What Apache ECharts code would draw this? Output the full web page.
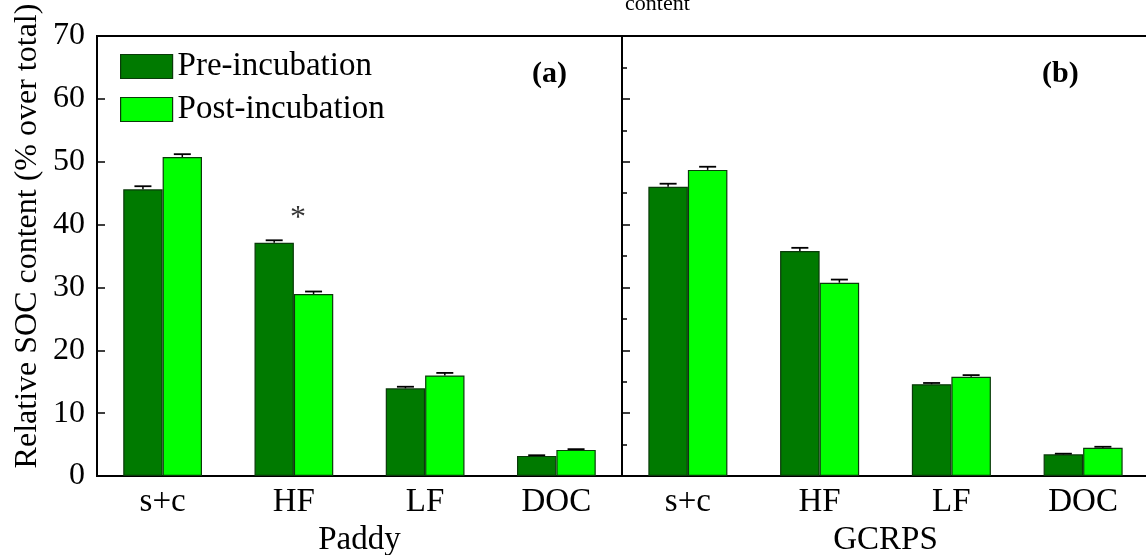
<!DOCTYPE html>
<html>
<head>
<meta charset="utf-8">
<script src="https://cdn.jsdelivr.net/npm/echarts@6/dist/echarts.min.js"></script>
<style>html,body{margin:0;padding:0;background:#fff;}#c{width:1146px;height:555px;}</style>
</head>
<body>
<div id="c"></div>
<script>
const categories = ['s+c', 'HF', 'LF', 'DOC'];
const yTicks = [0, 10, 20, 30, 40, 50, 60, 70];
const paddyPre = [45.6, 37.1, 13.95, 3.2];
const paddyPost = [50.75, 28.95, 16.0, 4.15];
const paddyPreErr = [0.5, 0.4, 0.25, 0.1];
const paddyPostErr = [0.45, 0.4, 0.4, 0.12];
const gcrpsPre = [46.0, 35.8, 14.6, 3.45];
const gcrpsPost = [48.7, 30.75, 15.8, 4.5];
const gcrpsPreErr = [0.5, 0.5, 0.2, 0.1];
const gcrpsPostErr = [0.5, 0.5, 0.25, 0.15];
const panelNames = ['Paddy', 'GCRPS'];
const panelTags = ['(a)', '(b)'];
const seriesNames = ['Pre-incubation', 'Post-incubation'];
const sigMark = { category: 'HF', value: 41.0, text: '*' };

const FONT = 'Liberation Serif';
const PRE = '#007a00', POST = '#00ff00', EDGE = '#0a3a0a';
const BARFRAC = 0.3;

const chart = echarts.init(document.getElementById('c'), null, { renderer: 'canvas' });

function errRender(sign) {
  return function (params, api) {
    const i = api.value(0), v = api.value(1), e = api.value(2);
    const base = api.coord([i, v]);
    const top = api.coord([i, v + e]);
    const bw = api.size([1, 0])[0] * BARFRAC;
    const x = base[0] + sign * bw / 2;
    const hw = 8.5;
    return {
      type: 'group',
      children: [
        { type: 'line', shape: { x1: x, y1: base[1], x2: x, y2: top[1] }, style: { stroke: '#000', lineWidth: 1.5 } },
        { type: 'line', shape: { x1: x - hw, y1: top[1], x2: x + hw, y2: top[1] }, style: { stroke: '#000', lineWidth: 1.8 } }
      ]
    };
  };
}
function errData(vals, errs) { return vals.map((v, i) => [i, v, errs[i]]); }

function barSeries(name, data, color, idx) {
  return {
    name: name, type: 'bar', xAxisIndex: idx, yAxisIndex: idx, data: data,
    barWidth: (BARFRAC * 100) + '%', barGap: '0%',
    itemStyle: { color: color, borderColor: EDGE, borderWidth: 1.2 },
    z: 2
  };
}
function errSeries(vals, errs, sign, idx) {
  return {
    type: 'custom', xAxisIndex: idx, yAxisIndex: idx, renderItem: errRender(sign),
    data: errData(vals, errs), z: 3, silent: true
  };
}

function xAxis(idx) {
  return {
    type: 'category', gridIndex: idx, data: categories,
    axisLine: { lineStyle: { color: '#000', width: 2 } },
    axisTick: { show: false },
    axisLabel: { fontFamily: FONT, fontSize: 33, color: '#000', margin: 10 },
    name: panelNames[idx], nameLocation: 'middle', nameGap: 35,
    nameTextStyle: { fontFamily: FONT, fontSize: 33, color: '#000' }
  };
}
function yAxis(idx) {
  const a = {
    type: 'value', gridIndex: idx, min: yTicks[0], max: yTicks[yTicks.length - 1], interval: 10,
    axisLine: { show: true, lineStyle: { color: '#000', width: 2 } },
    axisTick: { show: true, inside: true, length: 8, lineStyle: { color: '#000', width: 1.5 } },
    splitLine: { show: false },
    axisLabel: { show: idx === 0, fontFamily: FONT, fontSize: 32, color: '#000', margin: 12 }
  };
  if (idx === 0) {
    a.name = 'Relative SOC content (% over total)';
    a.nameLocation = 'middle';
    a.nameGap = 53;
    a.nameTextStyle = { fontFamily: FONT, fontSize: 32, color: '#000', padding: [0, 0, 0, 40] };
  } else {
    a.minorTick = { show: true, splitNumber: 2, length: 5, lineStyle: { color: '#000', width: 1.5 } };
  }
  return a;
}

const option = {
  animation: false,
  backgroundColor: '#fff',
  grid: [
    { left: 97, top: 36, width: 525, height: 440, show: true, borderColor: '#000', borderWidth: 2, backgroundColor: 'transparent', containLabel: false, outerBoundsMode: 'none' },
    { left: 622, top: 36, width: 527, height: 440, show: true, borderColor: '#000', borderWidth: 2, backgroundColor: 'transparent', containLabel: false, outerBoundsMode: 'none' }
  ],
  legend: {
    orient: 'vertical', left: 120, top: 50, padding: 0, itemWidth: 52, itemHeight: 24, itemGap: 10,
    icon: 'rect',
    data: seriesNames,
    itemStyle: { borderColor: EDGE, borderWidth: 1.2 },
    textStyle: { fontFamily: FONT, fontSize: 33, color: '#000', lineHeight: 32 }
  },
  xAxis: [xAxis(0), xAxis(1)],
  yAxis: [yAxis(0), yAxis(1)],
  series: [
    barSeries(seriesNames[0], paddyPre, PRE, 0),
    barSeries(seriesNames[1], paddyPost, POST, 0),
    barSeries(seriesNames[0], gcrpsPre, PRE, 1),
    barSeries(seriesNames[1], gcrpsPost, POST, 1),
    errSeries(paddyPre, paddyPreErr, -1, 0),
    errSeries(paddyPost, paddyPostErr, 1, 0),
    errSeries(gcrpsPre, gcrpsPreErr, -1, 1),
    errSeries(gcrpsPost, gcrpsPostErr, 1, 1),
    {
      type: 'scatter', xAxisIndex: 0, yAxisIndex: 0, symbolSize: 0, silent: true,
      data: [[sigMark.category, sigMark.value]],
      label: { show: true, position: 'inside', offset: [4, 0], formatter: sigMark.text, fontFamily: FONT, fontSize: 32, color: '#000' },
      z: 4
    }
  ],
  graphic: [
    { type: 'text', left: 532, top: 59, style: { text: panelTags[0], fontFamily: FONT, fontSize: 30, fontWeight: 'bold', fill: '#000' } },
    { type: 'text', left: 1042, top: 59, style: { text: panelTags[1], fontFamily: FONT, fontSize: 30, fontWeight: 'bold', fill: '#000' } },
    { type: 'text', left: 625, top: -7, style: { text: 'content', fontFamily: FONT, fontSize: 22, fill: '#000' } }
  ]
};
chart.setOption(option);
</script>
</body>
</html>
